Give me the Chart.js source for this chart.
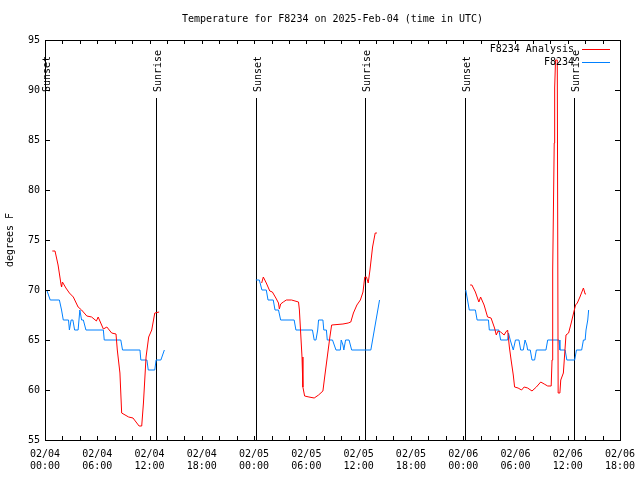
<!DOCTYPE html>
<html><head><meta charset="utf-8">
<script src="https://cdn.jsdelivr.net/npm/chart.js@4/dist/chart.umd.min.js"></script>
<style>html,body{margin:0;padding:0;background:#fff}canvas{display:block}</style>
</head><body>
<canvas id="c" width="640" height="480"></canvas>
<script>
const chartTitle = "Temperature for F8234 on 2025-Feb-04 (time in UTC)";
const yAxisTitle = "degrees F";
const seriesNames = ["F8234 Analysis", "F8234"];
const seriesColors = ["#ff0000", "#0080ff"];
// x tick labels every 6 hours, starting 02/04 00:00 (hour 0)
const xTickLabels = [
  ["02/04","00:00"],["02/04","06:00"],["02/04","12:00"],["02/04","18:00"],
  ["02/05","00:00"],["02/05","06:00"],["02/05","12:00"],["02/05","18:00"],
  ["02/06","00:00"],["02/06","06:00"],["02/06","12:00"],["02/06","18:00"]
];
const yTickValues = [55, 60, 65, 70, 75, 80, 85, 90, 95];
const sunEventHours  = [0, 12.75, 24.2, 36.7, 48.2, 60.7];
const sunEventLabels = ["Sunset","Sunrise","Sunset","Sunrise","Sunset","Sunrise"];

// hours since 02/04 00:00 UTC
const analysisHours = [
  0.84,1.15,1.5,1.85,1.9,2.0,2.4,2.8,3.25,3.8,4.2,4.8,5.35,5.9,6.1,6.7,7.1,7.65,8.15,8.3,8.6,8.8,9.6,10.1,10.8,11.1,11.3,11.6,11.9,12.25,12.6,13.1,
  18,
  24.87,25.06,25.4,25.8,26.1,26.5,26.8,26.9,27.05,27.35,27.7,28.3,29.1,29.2,29.5,29.6,29.8,30.3,30.9,31.4,31.9,32.1,32.4,32.7,32.9,34.2,34.8,35.1,35.4,35.8,36.2,36.5,36.7,36.9,37.1,37.3,37.6,37.9,38.1,
  42,
  48.8,49.0,49.4,49.8,50.0,50.4,50.8,51.2,51.6,51.8,52.0,52.3,52.7,52.9,53.1,53.3,53.5,53.75,53.9,54.3,54.7,55.0,55.4,55.9,56.4,56.9,57.3,57.7,58.1,58.2,58.25,58.3,58.45,58.5,58.6,58.8,58.9,59.1,59.2,59.5,59.8,60.1,60.4,60.7,60.9,61.1,61.4,61.8,62.0,62.1
];
const analysisTemps = [
  73.9,73.9,72.5,70.5,70.3,70.8,70.2,69.7,69.3,68.3,68.0,67.4,67.3,66.9,67.3,66.1,66.3,65.7,65.6,64.0,61.7,57.7,57.3,57.2,56.4,56.4,58.7,63.3,65.3,66.0,67.7,67.8,
  null,
  70.7,71.3,70.7,69.9,69.8,69.2,68.7,68.1,68.6,68.8,69.0,69.0,68.8,68.0,63.3,60.3,59.4,59.3,59.2,59.5,59.9,61.3,63.3,65.3,66.5,66.6,66.7,66.8,67.7,68.5,69.0,69.8,71.3,71.3,70.7,72.0,74.3,75.7,75.7,
  null,
  70.5,70.5,69.8,68.8,69.3,68.5,67.3,67.2,66.2,65.5,65.9,65.8,65.5,65.8,66.0,64.3,63.0,61.5,60.3,60.2,60.0,60.3,60.2,59.9,60.3,60.8,60.6,60.4,60.4,63.0,68.5,72.0,84.7,90.2,93.0,93.0,59.7,59.7,61.0,61.7,65.5,65.7,66.7,67.8,68.5,68.7,69.3,70.2,69.6,69.6
];
const sensorHours = [
  0.2,0.6,0.65,1.65,1.9,2.1,2.7,2.8,3.0,3.2,3.4,3.8,4.0,4.2,4.4,4.7,6.7,6.8,8.7,8.9,10.9,11.0,11.7,11.85,12.6,12.75,13.3,13.7,
  18,
  24.2,24.6,24.9,25.4,25.6,26.2,26.4,26.8,27.05,28.6,28.8,30.7,30.9,31.1,31.3,31.4,31.9,32.0,32.3,32.4,33.0,33.4,33.9,34.0,34.2,34.3,34.5,34.9,35.2,37.4,37.7,38.0,38.2,38.4,
  42,
  48.3,48.5,48.7,49.4,49.6,50.9,51.0,52.1,52.3,53.1,53.2,53.4,53.75,54.0,54.4,54.6,54.9,55.1,55.3,55.4,55.7,55.9,56.2,56.4,57.5,57.7,59.0,59.1,59.7,59.9,60.8,61.0,61.6,61.8,62.0,62.1,62.3,62.4
];
const sensorTemps = [
  70,69,69,69,68,67,67,66,67,67,66,66,68,67,67,66,66,65,65,64,64,63,63,62,62,63,63,64,
  null,
  71,71,70,70,69,69,68,68,67,67,66,66,65,65,66,67,67,66,66,65,65,64,64,65,64.5,64,65,65,64,64,65.5,67,68,69,
  null,
  70,69,68,68,67,67,66,66,65,65,65.7,65,64,65,65,64,64,65,64.5,64,64,63,63,64,64,65,65,64,64,63,63,64,64,65,65,66,67,68
];

const FONT = "DejaVu Sans Mono";

function toPoints(xs, ys){ return xs.map((x,i)=>({x:x, y:ys[i]})); }

const decor = {
  id: 'decor',
  beforeDatasetsDraw(chart){
    const ctx = chart.ctx, a = chart.chartArea, xs = chart.scales.x;
    ctx.save();
    ctx.strokeStyle = '#000'; ctx.lineWidth = 1;
    ctx.fillStyle = '#000';
    ctx.font = '10px "' + FONT + '"';
    sunEventHours.forEach((h,i)=>{
      const px = Math.round(xs.getPixelForValue(h)) + 0.5;
      ctx.beginPath(); ctx.moveTo(px, a.bottom); ctx.lineTo(px, a.top + 58); ctx.stroke();
      ctx.save();
      ctx.translate(px + 1.5, a.top + 52);
      ctx.rotate(-Math.PI/2);
      ctx.textAlign = 'left'; ctx.textBaseline = 'middle';
      ctx.fillText(sunEventLabels[i], 0, 0);
      ctx.restore();
    });
    ctx.restore();
  },
  afterDraw(chart){
    const ctx = chart.ctx, a = chart.chartArea, xs = chart.scales.x, ys = chart.scales.y;
    ctx.save();
    ctx.strokeStyle = '#000'; ctx.lineWidth = 1;
    // frame
    ctx.strokeRect(Math.round(a.left)+0.5, Math.round(a.top)+0.5, Math.round(a.right-a.left), Math.round(a.bottom-a.top));
    // inward ticks
    ctx.beginPath();
    xs.ticks.forEach(t=>{
      const px = Math.round(xs.getPixelForValue(t.value)) + 0.5;
      ctx.moveTo(px, a.bottom); ctx.lineTo(px, a.bottom - 4);
      ctx.moveTo(px, a.top); ctx.lineTo(px, a.top + 4);
    });
    ys.ticks.forEach(t=>{
      const py = Math.round(ys.getPixelForValue(t.value)) + 0.5;
      ctx.moveTo(a.left, py); ctx.lineTo(a.left + 5, py);
      ctx.moveTo(a.right, py); ctx.lineTo(a.right - 5, py);
    });
    ctx.stroke();
    // title
    ctx.fillStyle = '#000';
    ctx.font = '10px "' + FONT + '"';
    ctx.textAlign = 'center'; ctx.textBaseline = 'middle';
    ctx.fillText(chartTitle, (a.left + a.right)/2, 19.5);
    // y axis title
    ctx.save();
    ctx.translate(10, (a.top + a.bottom)/2);
    ctx.rotate(-Math.PI/2);
    ctx.fillText(yAxisTitle, 0, 0);
    ctx.restore();
    // legend
    ctx.textAlign = 'right';
    chart.data.datasets.forEach((ds,i)=>{
      const ly = a.top + 9 + i*13;
      ctx.fillStyle = '#000';
      ctx.fillText(ds.label, a.right - 46, ly);
      ctx.strokeStyle = ds.borderColor;
      ctx.beginPath(); ctx.moveTo(a.right - 38, ly + 0.5); ctx.lineTo(a.right - 10, ly + 0.5); ctx.stroke();
    });
    ctx.restore();
  }
};

new Chart(document.getElementById('c'), {
  type: 'line',
  data: {
    datasets: [
      { label: seriesNames[0], data: toPoints(analysisHours, analysisTemps), borderColor: seriesColors[0], borderWidth: 1, pointRadius: 0, spanGaps: false, tension: 0 },
      { label: seriesNames[1], data: toPoints(sensorHours, sensorTemps), borderColor: seriesColors[1], borderWidth: 1, pointRadius: 0, spanGaps: false, tension: 0 }
    ]
  },
  options: {
    responsive: false,
    animation: false,
    devicePixelRatio: 1,
    layout: { padding: { top: 40, right: 20, left: 0, bottom: 0 } },
    plugins: { legend: { display: false }, title: { display: false }, tooltip: { enabled: false } },
    scales: {
      x: {
        type: 'linear', min: 0, max: 66,
        grid: { display: false, drawTicks: false },
        border: { display: false },
        afterFit(s){ s.height = 40; s.paddingLeft = 0; s.paddingRight = 0; },
        ticks: {
          stepSize: 2, autoSkip: false, maxRotation: 0, padding: 8,
          color: '#000', font: { family: FONT, size: 10 },
          callback(v){ return (v % 6 === 0) ? xTickLabels[v/6] : ''; }
        }
      },
      y: {
        type: 'linear', min: 55, max: 95,
        grid: { display: false, drawTicks: false },
        border: { display: false },
        afterFit(s){ s.width = 45; s.paddingTop = 0; s.paddingBottom = 0; },
        afterBuildTicks(s){ s.ticks = yTickValues.map(v=>({value:v})); },
        ticks: { padding: 5, color: '#000', font: { family: FONT, size: 10 } }
      }
    }
  },
  plugins: [decor]
});
</script>
</body></html>
